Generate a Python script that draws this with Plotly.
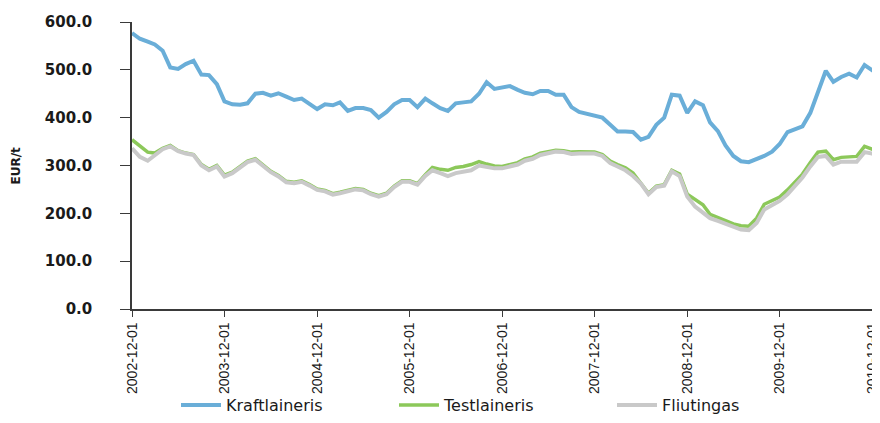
from __future__ import annotations

import pandas as pd
import plotly.graph_objects as go


# ── colours ─────────────────────────────────────────────
BLUE = "#6AAED8"
GREEN = "#8CC85A"
GRAY = "#C9C9C9"
AXIS = "#3A3A3A"
TEXT = "#1A1A1A"

# ── data (EUR/t, monthly from 2002-12) ──────────────────
months = pd.date_range("2002-12-01", periods=98, freq="MS")

kraftlaineris = [
    577, 565, 559, 553, 540, 505, 502, 512, 519, 490, 489, 470,
    434, 428, 427, 430, 450, 452, 446, 451, 444, 437, 440, 428,
    418, 428, 426, 432, 414, 420, 420, 416, 400, 412, 428, 437,
    437, 422, 440, 430, 420, 414, 430, 432, 434, 450, 474, 460,
    462, 466, 458, 452, 449, 456, 456, 448, 448, 422, 412, 408,
    406, 400, 385, 371, 371, 370, 354, 360, 385, 400, 448, 446,
    410, 434, 426, 390, 372, 342, 320, 309, 307, 313, 320, 329,
    345, 370, 376, 382, 410, 455, 498, 475, 485, 492, 484, 510,
    500, 488,
]

testlaineris = [
    354, 340, 328, 326, 336, 342, 331, 326, 323, 302, 292, 300,
    280, 286, 298, 309, 314, 302, 288, 279, 267, 265, 268, 260,
    251, 248, 241, 244, 248, 252, 250, 242, 237, 242, 257, 268,
    268, 262, 281, 296, 292, 290, 296, 298, 302, 308, 303, 299,
    298, 302, 306, 314, 318, 326, 330, 332, 331, 328, 329, 329,
    328, 323, 309, 302, 295, 284, 264, 242, 257, 260, 290, 282,
    240, 230, 218, 198, 192, 185, 178, 174, 173, 190, 219, 226,
    234, 249, 266, 282, 306, 328, 330, 312, 317, 318, 319, 340,
    335, 328,
]

fliutingas = [
    336, 318, 310, 322, 334, 340, 330, 325, 322, 300, 290, 298,
    277, 284, 296, 307, 312, 300, 286, 277, 265, 263, 266, 258,
    249, 246, 239, 242, 246, 250, 248, 240, 235, 240, 255, 266,
    266, 260, 278, 290, 284, 278, 284, 287, 290, 300, 297, 294,
    294, 298, 302, 310, 314, 322, 326, 329, 328, 324, 325, 326,
    325, 320, 305, 298, 290, 278, 262, 240, 255, 258, 288, 278,
    235, 214, 202, 190, 184, 178, 170, 166, 165, 180, 208, 218,
    226, 240, 258, 275, 298, 318, 320, 302, 308, 308, 308, 328,
    325, 318,
]

tick_dates = pd.date_range("2002-12-01", periods=9, freq="12MS")
tick_labels = [d.strftime("%Y-%m-%d") for d in tick_dates]
y_ticks = [0, 100, 200, 300, 400, 500, 600]

# page body adds an 8px offset, so the figure is sized to fill the rest
W, H = 872, 415
L, T, B = 124, 14, 114
plot_w = W - L
plot_h = H - T - B

fig = go.Figure()
fig.add_trace(go.Scatter(x=months, y=kraftlaineris, mode="lines", name="Kraftlaineris",
                         line=dict(color=BLUE, width=4)))
fig.add_trace(go.Scatter(x=months, y=testlaineris, mode="lines", name="Testlaineris",
                         line=dict(color=GREEN, width=3.5)))
fig.add_trace(go.Scatter(x=months, y=fliutingas, mode="lines", name="Fliutingas",
                         line=dict(color=GRAY, width=4)))

fig.update_layout(
    width=W,
    height=H,
    margin=dict(l=L, r=0, t=T, b=B),
    paper_bgcolor="white",
    plot_bgcolor="white",
    font=dict(family="DejaVu Sans, Verdana, sans-serif", color=TEXT, size=13),
    showlegend=True,
    legend=dict(
        orientation="h",
        x=(168 - L) / plot_w, xanchor="left",
        y=-(B - 1) / plot_h, yanchor="bottom",
        font=dict(size=16, family="DejaVu Sans, Verdana, sans-serif"),
        itemwidth=40,
        entrywidth=163,
        entrywidthmode="pixels",
        bgcolor="rgba(0,0,0,0)",
    ),
    annotations=[
        dict(text="<b>EUR/t</b>", xref="paper", yref="paper",
             x=-(L - 7) / plot_w, xanchor="center", y=0.5, yanchor="middle",
             textangle=-90, showarrow=False,
             font=dict(size=12, color=TEXT)),
    ],
)

fig.update_xaxes(
    range=[months[0], months[-1]],
    tickvals=tick_dates,
    ticktext=tick_labels,
    tickangle=-90,
    tickfont=dict(family="Liberation Sans, Arial, sans-serif", size=14, color=TEXT),
    ticks="outside",
    ticklen=6,
    tickcolor=AXIS,
    showline=True,
    linecolor=AXIS,
    linewidth=1.5,
    showgrid=False,
    zeroline=False,
    automargin=False,
)
fig.update_yaxes(
    range=[0, 600],
    tickvals=y_ticks,
    ticktext=[f"{v:.1f}" for v in y_ticks],
    tickfont=dict(family="DejaVu Sans, Verdana, sans-serif", size=15, color=TEXT, weight="bold"),
    ticks="outside",
    ticklen=10,
    tickcolor=AXIS,
    ticklabelstandoff=25,
    showline=True,
    linecolor=AXIS,
    linewidth=1.5,
    showgrid=False,
    zeroline=False,
    automargin=False,
)

fig.write_html("out.html")
